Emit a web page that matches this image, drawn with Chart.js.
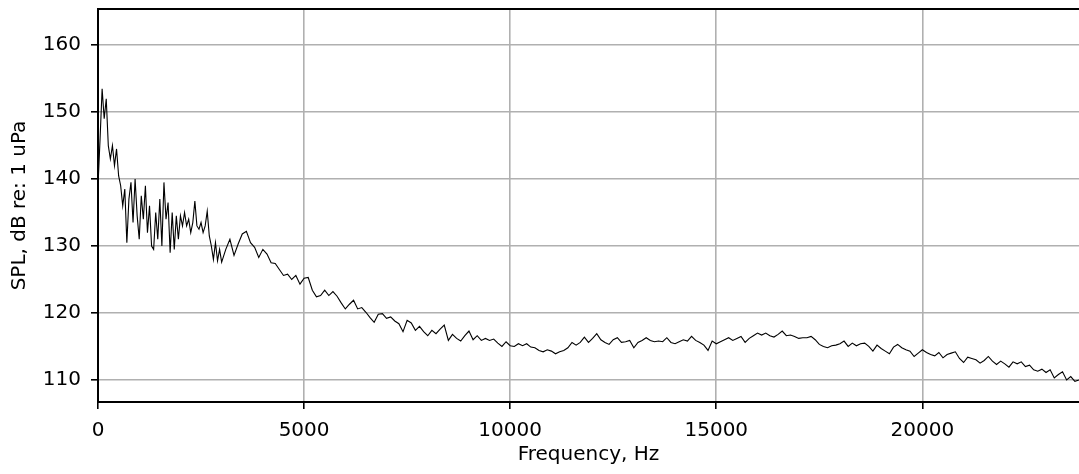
<!DOCTYPE html>
<html>
<head>
<meta charset="utf-8">
<script src="https://cdn.jsdelivr.net/npm/chart.js@4.4.1/dist/chart.umd.min.js"></script>
<style>
    html, body { margin: 0; padding: 0; background: #fff; }
    #wrap { width: 1079px; height: 474px; position: relative; }
</style>
</head>
<body>
<div id="wrap"><canvas id="splChart"></canvas></div>
<script>
// Spectrum
// 0 - 3000 Hz, every 50 Hz
const lowStepHz = 50;
const lowSpl = [
    139, 146, 153.5, 149, 152, 145, 143, 145, 142, 144.5, 140.5, 139, 136, 138.5, 130.5, 137, 139.5, 133.5, 140, 134.5,
    131, 137.5, 134, 139, 132, 136, 130, 129.5, 135, 131, 137, 130, 139.5, 134, 136.5, 129, 135, 129.5, 134.5, 131,
    134.5, 133, 135, 133, 134, 132, 133.5, 136.7, 133, 132.5, 133.5, 132, 133, 135.2, 131.5, 130, 128, 130.5, 127.8, 129.5,
    127.6
];
// 3100 - 23800 Hz, every 100 Hz
const highStartHz = 3100;
const highStepHz = 100;
const highSpl = [
    129.5, 131, 128.6, 130.3, 131.8, 132.2, 130.5, 129.8, 128.3, 129.5,
    128.8, 127.5, 127.4, 126.5, 125.6, 125.8, 125.0, 125.6, 124.3, 125.2,
    125.3, 123.4, 122.4, 122.6, 123.4, 122.6, 123.2, 122.5, 121.5, 120.6,
    121.3, 121.9, 120.6, 120.8, 120.1, 119.3, 118.6, 119.8, 119.9, 119.2,
    119.4, 118.8, 118.4, 117.2, 118.9, 118.5, 117.4, 118.0, 117.2, 116.6,
    117.4, 116.9, 117.6, 118.2, 115.9, 116.8, 116.2, 115.8, 116.6, 117.3,
    116.0, 116.6, 115.9, 116.2, 115.9, 116.1, 115.5, 115.0, 115.7, 115.1,
    115.0, 115.4, 115.1, 115.4, 114.9, 114.8, 114.4, 114.2, 114.5, 114.3,
    113.9, 114.2, 114.4, 114.8, 115.6, 115.2, 115.6, 116.4, 115.6, 116.2,
    116.9, 116.0, 115.6, 115.3, 116.0, 116.3, 115.6, 115.7, 115.9, 114.8,
    115.6, 115.9, 116.3, 115.9, 115.7, 115.8, 115.7, 116.3, 115.6, 115.4,
    115.7, 116.0, 115.8, 116.5, 115.9, 115.6, 115.2, 114.4, 115.8, 115.4,
    115.7, 116.0, 116.3, 115.9, 116.2, 116.5, 115.6, 116.2, 116.6, 117.0,
    116.7, 117.0, 116.6, 116.4, 116.8, 117.3, 116.6, 116.7, 116.5, 116.2,
    116.3, 116.3, 116.5, 116.0, 115.3, 115.0, 114.8, 115.1, 115.2, 115.4,
    115.8, 115.0, 115.5, 115.1, 115.4, 115.5, 115.0, 114.3, 115.2, 114.7,
    114.3, 113.9, 114.9, 115.3, 114.8, 114.5, 114.3, 113.5, 114.0, 114.5,
    114.1, 113.8, 113.6, 114.1, 113.3, 113.8, 114.0, 114.2, 113.2, 112.6,
    113.4, 113.2, 113.0, 112.5, 112.9, 113.5, 112.8, 112.3, 112.8, 112.4,
    111.9, 112.7, 112.4, 112.7, 112.0, 112.2, 111.5, 111.3, 111.6, 111.1,
    111.5, 110.3, 110.8, 111.2, 110.0, 110.5, 109.8, 110.0
];

const xTicks = [0, 5000, 10000, 15000, 20000];
const yTicks = [110, 120, 130, 140, 150, 160];
const xRange = [0, 23800];
const yRange = [106.7, 165.4];

// build the {x, y} points
const points = [];
lowSpl.forEach((v, i) => points.push({ x: i * lowStepHz, y: v }));
highSpl.forEach((v, i) => points.push({ x: highStartHz + i * highStepHz, y: v }));

const font = { family: '"DejaVu Sans", sans-serif', size: 20 };
const gridColor = '#b0b0b0';

// top spine (matplotlib style frame)
const frame = {
    id: 'frame',
    afterDraw(chart) {
        const { ctx, chartArea } = chart;
        ctx.save();
        ctx.strokeStyle = '#000';
        ctx.lineWidth = 2;
        ctx.beginPath();
        ctx.moveTo(chartArea.left - 1, chartArea.top);
        ctx.lineTo(chartArea.right, chartArea.top);
        ctx.stroke();
        ctx.restore();
    }
};

Chart.defaults.color = '#000';
Chart.defaults.font = font;

new Chart(document.getElementById('splChart'), {
    type: 'line',
    data: {
        datasets: [{
            data: points,
            borderColor: '#000',
            borderWidth: 1.1,
            pointRadius: 0,
            tension: 0,
            clip: true
        }]
    },
    options: {
        responsive: true,
        maintainAspectRatio: false,
        animation: false,
        events: [],
        layout: { padding: { top: 9, right: 0, bottom: 0, left: 0 } },
        plugins: {
            legend: { display: false },
            tooltip: { enabled: false }
        },
        scales: {
            x: {
                type: 'linear',
                min: xRange[0],
                max: xRange[1],
                afterBuildTicks: s => { s.ticks = xTicks.map(v => ({ value: v })); },
                afterFit: s => { s.height = 72; s.paddingLeft = 0; s.paddingRight = 0; },
                ticks: { callback: v => String(v), padding: 10, maxRotation: 0, font: font },
                grid: { color: gridColor, lineWidth: 1.6, tickLength: 7, tickColor: '#000', tickWidth: 1.6 },
                border: { display: true, color: '#000', width: 2 },
                title: { display: true, text: 'Frequency, Hz', font: font, padding: { top: 0, bottom: 7 } }
            },
            y: {
                type: 'linear',
                min: yRange[0],
                max: yRange[1],
                afterBuildTicks: s => { s.ticks = yTicks.map(v => ({ value: v })); },
                afterFit: s => { s.width = 98; s.paddingTop = 0; s.paddingBottom = 0; },
                ticks: { callback: v => String(v), padding: 10, font: font },
                grid: { color: gridColor, lineWidth: 1.6, tickLength: 7, tickColor: '#000', tickWidth: 1.6 },
                border: { display: true, color: '#000', width: 2 },
                title: { display: true, text: 'SPL, dB re: 1 uPa', font: font, padding: { top: 8, bottom: 0 } }
            }
        }
    },
    plugins: [frame]
});
</script>
</body>
</html>
